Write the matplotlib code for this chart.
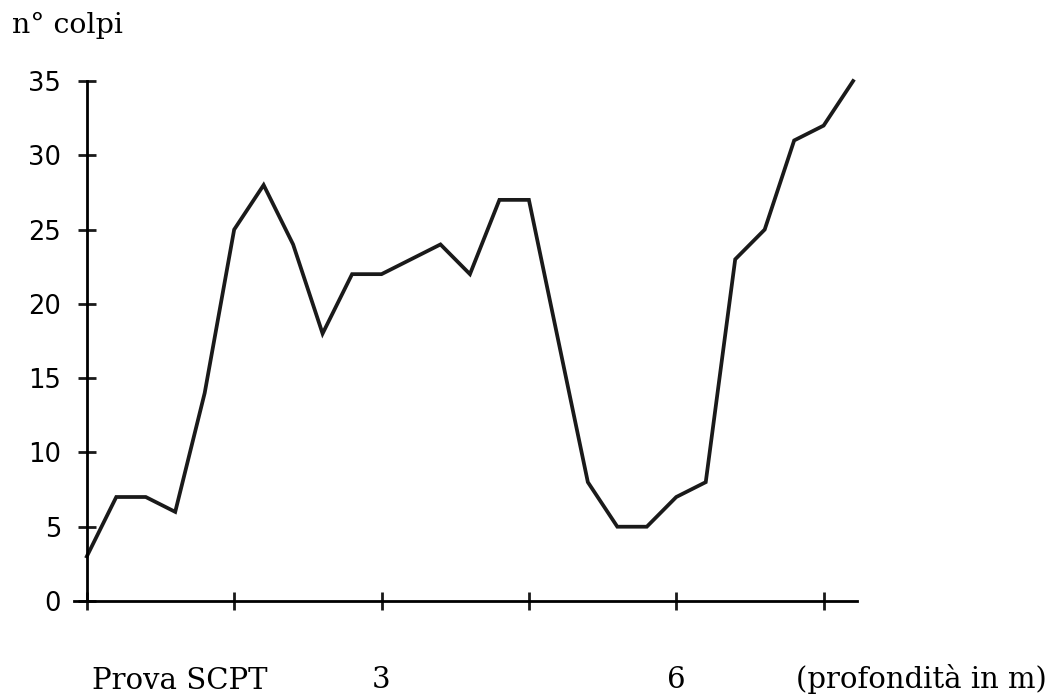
import matplotlib
matplotlib.use('Agg')
import matplotlib.pyplot as plt

# SCPT test: blow count against depth
depth = [0.0, 0.3, 0.6, 0.9, 1.2, 1.5, 1.8, 2.1, 2.4, 2.7, 3.0, 3.3, 3.6, 3.9,
         4.2, 4.5, 5.1, 5.4, 5.7, 6.0, 6.3, 6.6, 6.9, 7.2, 7.5, 7.8]
colpi = [3, 7, 7, 6, 14, 25, 28, 24, 18, 22, 22, 23, 24, 22,
         27, 27, 8, 5, 5, 7, 8, 23, 25, 31, 32, 35]

x_ticks = [0, 1.5, 3, 4.5, 6, 7.5]
x_ticklabels = ['', '', '3', '', '6', '']
y_ticks = [0, 5, 10, 15, 20, 25, 30, 35]

fig = plt.figure(figsize=(10.53, 6.99), dpi=100)
ax = fig.add_axes([0.0703, 0.1402, 0.7436, 0.7439])

ax.plot(depth, colpi, color='#1a1a1a', lw=2.7, solid_joinstyle='miter', clip_on=False)

ax.set_xlim(-0.13, 7.84)
ax.set_ylim(0, 35)

for s in ['top', 'right']:
    ax.spines[s].set_visible(False)
ax.spines['left'].set_position(('data', 0))
ax.spines['left'].set_bounds(0, 35)
ax.spines['left'].set_linewidth(2.0)
ax.spines['bottom'].set_linewidth(2.0)

ax.set_xticks(x_ticks)
ax.set_xticklabels(x_ticklabels, fontfamily='DejaVu Serif', fontsize=21)
ax.set_yticks(y_ticks)
ax.set_yticklabels([str(v) for v in y_ticks], fontfamily='DejaVu Sans', fontsize=18.5)
ax.tick_params(axis='both', direction='inout', length=13, width=2.0, color='#1a1a1a')
ax.tick_params(axis='x', pad=40)
ax.tick_params(axis='y', pad=12)

fig.text(12 / 1053, 1 - 33 / 699, 'n° colpi', fontfamily='DejaVu Serif', fontsize=20.5,
         ha='left', va='baseline')
fig.text(92 / 1053, 1 - 689 / 699, 'Prova SCPT', fontfamily='DejaVu Serif', fontsize=21,
         ha='left', va='baseline')
fig.text(1047 / 1053, 1 - 688 / 699, '(profondità in m)', fontfamily='DejaVu Serif', fontsize=21,
         ha='right', va='baseline')

fig.savefig('out.png', dpi=100)
